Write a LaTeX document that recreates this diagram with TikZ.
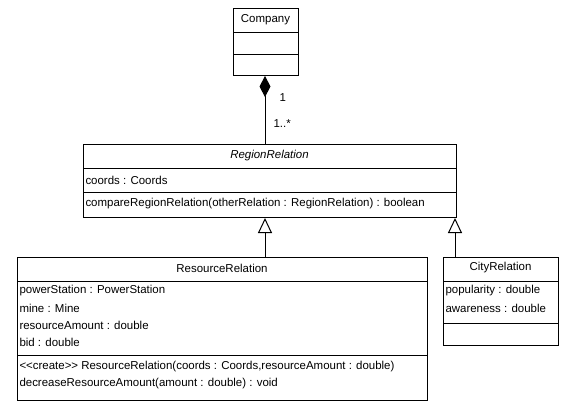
\documentclass[tikz,border=0pt]{standalone}
\usepackage{fontspec}
\setmainfont{Liberation Sans}
\usetikzlibrary{arrows.meta}
\tikzset{every picture/.style={line width=0.75pt}}
\tikzset{
  classbox/.style={draw, inner sep=0pt, anchor=north west},
  umltext/.style={inner sep=0.75pt, font=\fontsize{8.6}{10}\selectfont},
  member/.style={umltext, anchor=west},
  composition/.style={-{Diamond[length=15.75pt,width=8.25pt]}},
  generalization/.style={-{Triangle[open,length=11.25pt,width=10.5pt,line width=0.75pt]}},
}

\begin{document}
\begin{tikzpicture}[x=0.75pt,y=0.75pt,yscale=-1,xscale=1]
\useasboundingbox (0,0) rectangle (565,405);

%Shape: Rectangle [Company]
\node [classbox, minimum width=48.75pt, minimum height=50.25pt] (company) at (233,8) {};
\draw (233,32) -- (298,32) ;
\draw (233,54) -- (298,54) ;
% Text Node
\node [umltext] (companyname) at (265.5,20) {Company};

%Shape: Rectangle [RegionRelation]
\node [classbox, minimum width=279.75pt, minimum height=54.75pt] (region) at (83,144) {};
\draw (83,168) -- (456,168) ;
\draw (83,192) -- (456,192) ;
% Text Node
\node [umltext, font=\fontsize{8.6}{10}\selectfont\itshape] (regionname) at (269.5,156) {RegionRelation};
\node [member] (coords) at (84,180) {coords : Coords};
\node [member] (compare) at (84,204) {compareRegionRelation(otherRelation : RegionRelation) : boolean};

%Shape: Rectangle [ResourceRelation]
\node [classbox, minimum width=307.5pt, minimum height=107.25pt] (resource) at (17,257) {};
\draw (17,281) -- (427,281) ;
\draw (17,355) -- (427,355) ;
% Text Node
\node [umltext] (resourcename) at (222,268) {ResourceRelation};
\node [member] (powerstation) at (18,291) {powerStation : PowerStation};
\node [member] (mine) at (18,308) {mine : Mine};
\node [member] (resourceamount) at (18,325) {resourceAmount : double};
\node [member] (bid) at (18,342) {bid : double};
\node [member] (create) at (18,367) {<{}<create>{}> ResourceRelation(coords : Coords,resourceAmount : double)};
\node [member] (decrease) at (18,384) {decreaseResourceAmount(amount : double) : void};

%Shape: Rectangle [CityRelation]
\node [classbox, minimum width=86.25pt, minimum height=66pt] (city) at (443,257) {};
\draw (443,281) -- (558,281) ;
\draw (443,323) -- (558,323) ;
% Text Node
\node [umltext] (cityname) at (500.5,268) {CityRelation};
\node [member] (popularity) at (444,291) {popularity : double};
\node [member] (awareness) at (444,308) {awareness : double};

% Connectors
\coordinate (trunk) at (265,0);
\coordinate (citytrunk) at (455,0);
\draw [composition] (region.north -| trunk) -- (company.south -| trunk) ;
\draw [generalization] (resource.north -| trunk) -- (region.south -| trunk) ;
\draw [generalization] (city.north -| citytrunk) -- (region.south -| citytrunk) ;

% Text Node
\node [umltext, anchor=west] (multone) at (278,98) {1};
\node [umltext, anchor=west] (multmany) at (272,124) {1..*};

\end{tikzpicture}
\end{document}
